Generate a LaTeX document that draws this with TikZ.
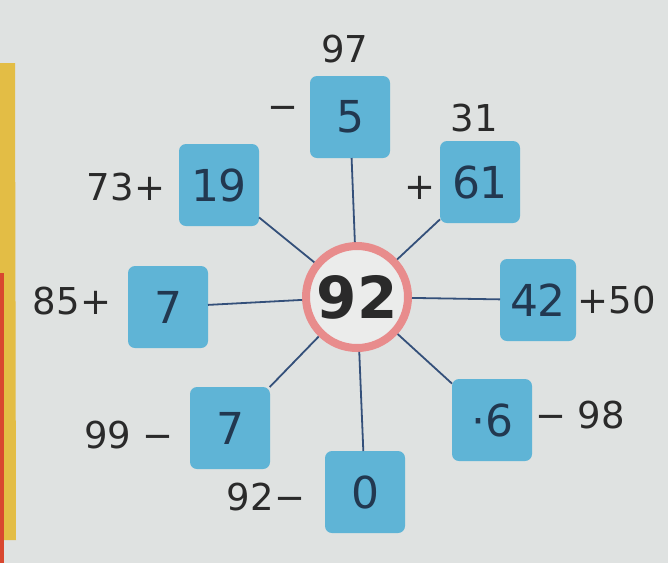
\documentclass[tikz,border=0pt]{standalone}
\usepackage{fontspec}
\setmainfont{DejaVu Sans}
\definecolor{cdfe2e1}{RGB}{223,226,225}
\definecolor{c5fb4d6}{RGB}{95,180,214}
\definecolor{ce88c8c}{RGB}{232,140,140}
\definecolor{cebeceb}{RGB}{235,236,235}
\definecolor{c34507a}{RGB}{52,80,122}
\definecolor{c223850}{RGB}{34,56,80}
\definecolor{c2a2a2a}{RGB}{42,42,42}
\definecolor{ce3bd45}{RGB}{227,189,69}
\definecolor{cd9472f}{RGB}{217,71,47}

\begin{document}
\begin{tikzpicture}[x=1pt, y=-1pt, inner sep=0pt, outer sep=0pt,
  box/.style={fill=c5fb4d6, rounded corners=7pt, minimum width=80pt, minimum height=82pt,
    text=c223850, font=\fontsize{44}{46}\selectfont},
  hub/.style={circle, draw=ce88c8c, line width=8pt, fill=cebeceb, minimum size=102pt,
    outer sep=4pt, text=c2a2a2a, font=\fontsize{58}{60}\selectfont\bfseries},
  lbl/.style={text=c2a2a2a, font=\fontsize{37}{39}\selectfont},
  spoke/.style={draw=c34507a, line width=1.8pt}]
  % paper
  \fill[cdfe2e1] (0,0) rectangle (668,563);
  \fill[ce3bd45] (0,63) -- (15,63) -- (16,540) -- (0,540) -- cycle;
  \fill[cd9472f] (0,273) rectangle (4,563);

  % centre and answer boxes
  \node[hub] (c) at (357,297) {92};
  \node[box] (b5) at (350,117) {5};
  \node[box] (b61) at (480,182) {61};
  \node[box] (b19) at (219,185) {19};
  \node[box] (b7a) at (168,307) {7};
  \node[box, minimum width=76pt] (b42) at (538,300) {42};
  \node[box] (b7b) at (230,428) {7};
  \node[box] (b6) at (492,420) {·6};
  \node[box] (b0) at (365,492) {0};

  % spokes
  \foreach \b in {b5,b61,b19,b7a,b42,b7b,b6,b0}
    \path[spoke] (c) -- (\b);

  % printed labels
  \node[lbl] (t97) at (345,49) {97};
  \node[lbl] (tm5) at (283,113) {−};
  \node[lbl] (t31) at (474,118) {31};
  \node[lbl] (tp61) at (420,188) {+};
  \node[lbl] (t73) at (126,187) {73+};
  \node[lbl] (t85) at (72,301) {85+};
  \node[lbl] (t50) at (617,300) {+50};
  \node[lbl] (t99) at (129,435) {99 −};
  \node[lbl] (t98) at (580,415) {− 98};
  \node[lbl] (t92) at (266,497) {92−};
\end{tikzpicture}
\end{document}
